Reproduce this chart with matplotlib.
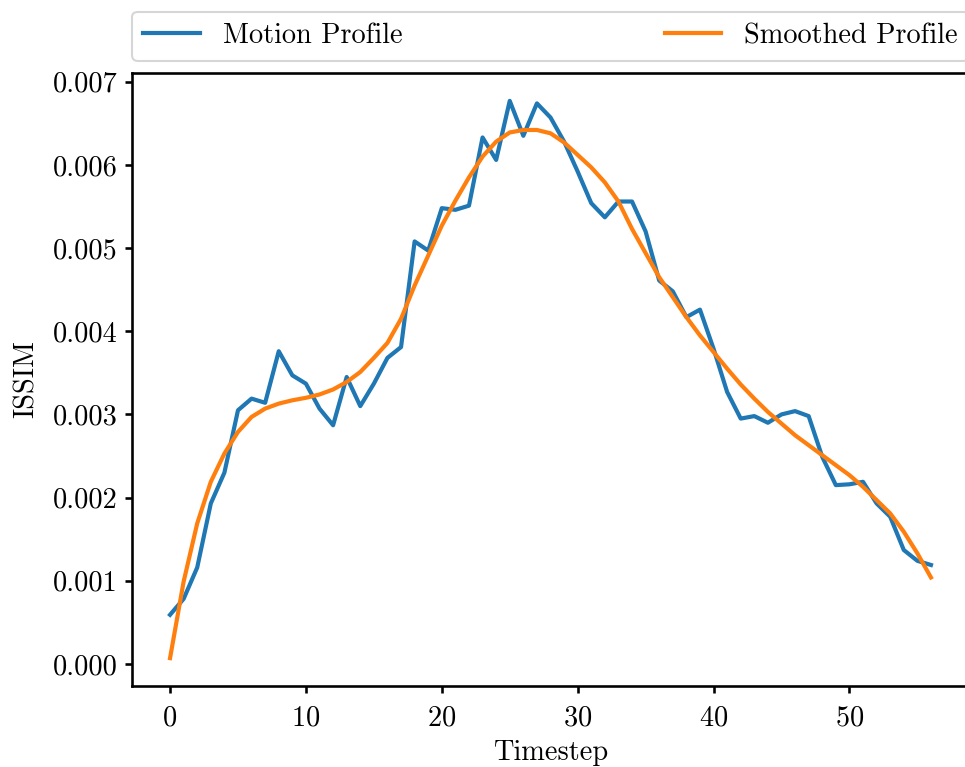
import matplotlib
matplotlib.use("Agg")
import matplotlib.pyplot as plt
import numpy as np

plt.rcParams.update({
    "font.family": "serif",
    "font.serif": ["cmr10"],
    "mathtext.fontset": "cm",
    "axes.unicode_minus": False,
    "axes.formatter.use_mathtext": True,
    "font.size": 13.6,
    "axes.linewidth": 1.25,
    "xtick.major.width": 1.25,
    "ytick.major.width": 1.25,
    "xtick.major.pad": 5.5,
})

timesteps = list(range(57))

motion_profile = [
    0.000591, 0.000783, 0.00116, 0.00193, 0.00230, 0.00305, 0.00319, 0.00314,
    0.00376, 0.00347, 0.00337, 0.00307, 0.00287, 0.00345, 0.00310, 0.00337,
    0.00368, 0.00381, 0.00508, 0.00497, 0.00548, 0.00546, 0.00551, 0.00633,
    0.00606, 0.00677, 0.00635, 0.00674, 0.00657, 0.00628, 0.00592, 0.00554,
    0.00537, 0.00556, 0.00556, 0.00520, 0.00461, 0.00448, 0.00417, 0.00426,
    0.00379, 0.00327, 0.00295, 0.00298, 0.00290, 0.00300, 0.00304, 0.00298,
    0.00249, 0.00215, 0.00216, 0.00219, 0.00193, 0.00177, 0.00137, 0.00124,
    0.00119,
]

smoothed_profile = [
    0.00007, 0.00099, 0.00169, 0.00219, 0.00253, 0.00279, 0.00297, 0.00307,
    0.00313, 0.00317, 0.00320, 0.00324, 0.00330, 0.00339, 0.00351, 0.00368,
    0.00386, 0.00415, 0.00455, 0.00491, 0.00527, 0.00557, 0.00585, 0.00610,
    0.00628, 0.00639, 0.00642, 0.00642, 0.00638, 0.00627, 0.00612, 0.00597,
    0.00579, 0.00556, 0.00523, 0.00494, 0.00465, 0.00441, 0.00417, 0.00395,
    0.00375, 0.00355, 0.00336, 0.00319, 0.00303, 0.00289, 0.00275, 0.00263,
    0.00251, 0.00239, 0.00227, 0.00213, 0.00197, 0.00181, 0.00159, 0.00133,
    0.00104,
]

fig = plt.figure(figsize=(965 / 150, 767 / 150), dpi=150)
ax = fig.add_axes([132 / 965, 81 / 767, 837 / 965, 613 / 767])

ax.plot(timesteps, motion_profile, color="#1f77b4", lw=2.0, label="Motion Profile")
ax.plot(timesteps, smoothed_profile, color="#ff7f0e", lw=2.0, label="Smoothed Profile")

ax.set_xlabel("Timestep", labelpad=4)
ax.set_ylabel("ISSIM", labelpad=6)
ax.set_xticks([0, 10, 20, 30, 40, 50])
yticks = np.arange(0, 0.0071, 0.001)
ax.set_yticks(yticks)
ax.set_yticklabels([f"{v:.3f}" for v in yticks])

ax.legend(bbox_to_anchor=(0, 1.02, 1, 0.102), loc="lower left",
          mode="expand", ncol=2, borderaxespad=0)

fig.savefig("out.png", dpi=150)
